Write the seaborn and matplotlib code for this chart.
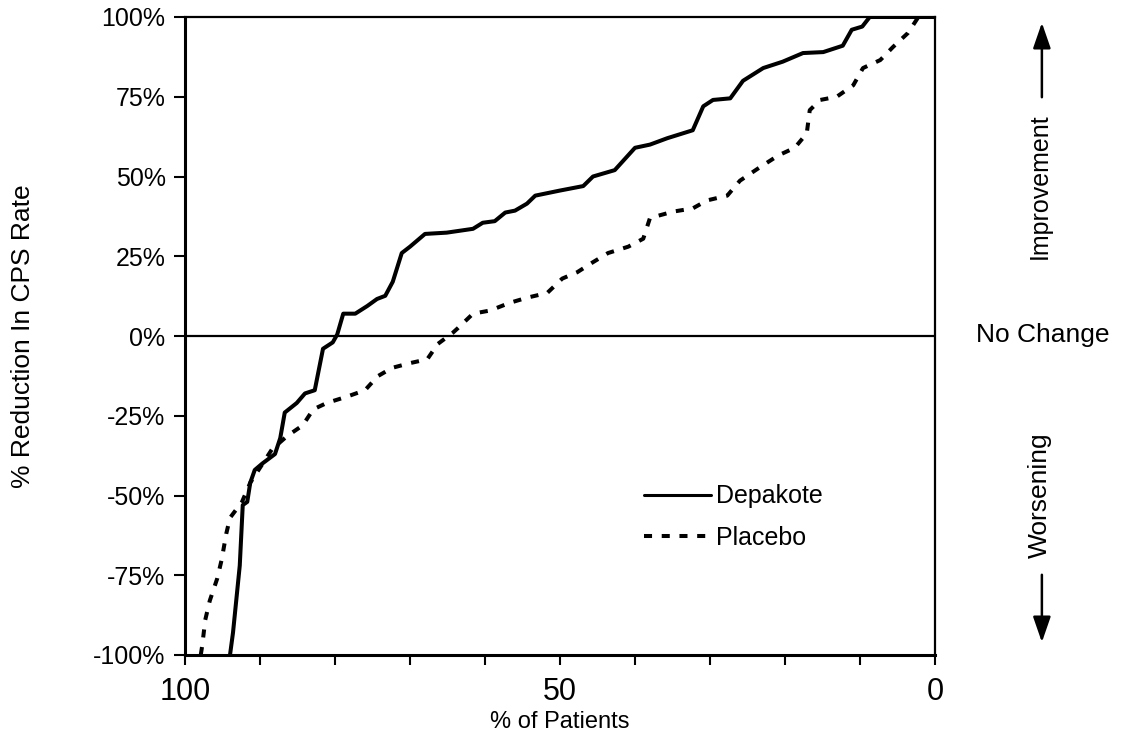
import matplotlib
matplotlib.use("Agg")
import matplotlib.pyplot as plt
import seaborn as sns
import pandas as pd
from matplotlib.ticker import FixedLocator, MultipleLocator
from matplotlib.lines import Line2D

# ---- data ----
depakote_x = [94.0, 93.6, 92.7, 92.3, 91.7, 91.3, 90.7, 89.7, 88.0, 87.3, 86.7, 85.1, 84.0,
              82.7, 81.6, 80.3, 79.7, 78.9, 77.3, 75.7, 74.4, 73.3, 72.3, 71.1, 70.0, 68.0,
              65.1, 61.6, 60.3, 58.7, 57.3, 56.0, 54.4, 53.3, 50.0, 46.9, 45.6, 42.7, 40.0,
              38.0, 35.7, 32.3, 30.9, 29.6, 27.3, 25.6, 22.9, 20.3, 17.6, 14.9, 12.3, 11.1,
              9.7, 8.7, 0.0]
depakote_y = [-100, -93, -72, -53, -52, -46, -42, -40, -37, -32, -24, -21, -18,
              -17, -4, -2, 0.5, 7, 7, 9.4, 11.6, 12.6, 17, 26, 28, 32,
              32.4, 33.6, 35.5, 36, 38.7, 39.3, 41.5, 44, 45.6, 47, 50, 52, 59,
              60, 62, 64.5, 72, 74, 74.5, 80, 84, 86, 88.7, 89, 91, 96,
              97, 100, 100]

placebo_x = [97.9, 97.7, 97.3, 96.7, 95.7, 95.1, 94.5, 94.0, 92.4, 91.3, 88.4, 86.4, 84.3,
             82.9, 81.1, 78.4, 76.0, 74.3, 72.4, 70.0, 67.7, 66.3, 64.3, 63.6, 61.6, 59.3,
             56.7, 54.4, 51.7, 49.7, 47.7, 45.7, 43.6, 40.9, 38.9, 38.0, 34.9, 32.3, 30.4,
             27.7, 26.0, 23.6, 20.9, 18.7, 17.1, 16.7, 15.3, 13.1, 10.9, 9.6, 7.3, 5.6,
             3.6, 2.3]
placebo_y = [-100, -97, -89, -83, -76, -70, -62, -57, -52, -46, -35.5, -31.4, -28,
             -23, -21, -19, -17, -12.6, -10, -8.5, -7.3, -2.5, 1, 2.5, 7, 8,
             10.4, 12, 13.5, 18, 20, 23, 26, 28, 30.5, 37, 39, 40, 42.5,
             44, 48.7, 52.5, 56.6, 59, 63.5, 70.8, 74, 75, 78.6, 84, 86.5, 90.6,
             95, 99.7]

series_names = ["Depakote", "Placebo"]
y_ticks = [-100, -75, -50, -25, 0, 25, 50, 75, 100]
y_tick_labels = ["-100%", "-75%", "-50%", "-25%", "0%", "25%", "50%", "75%", "100%"]
x_ticks = [100, 50, 0]
x_tick_labels = ["100", "50", "0"]

df = pd.concat([
    pd.DataFrame({"pct_patients": depakote_x, "reduction": depakote_y, "group": series_names[0]}),
    pd.DataFrame({"pct_patients": placebo_x, "reduction": placebo_y, "group": series_names[1]}),
], ignore_index=True)

sns.set_theme(style="ticks")
plt.rcParams["font.family"] = ["Liberation Sans", "DejaVu Sans"]
plt.rcParams["text.color"] = "black"
plt.rcParams["axes.labelcolor"] = "black"
plt.rcParams["xtick.color"] = "black"
plt.rcParams["ytick.color"] = "black"

fig = plt.figure(figsize=(11.23, 7.47), dpi=100)
ax = fig.add_axes([185 / 1123, 92 / 747, 750 / 1123, 638 / 747])

DASH = (2.0, 2.4)
sns.lineplot(data=df, x="pct_patients", y="reduction", hue="group", style="group",
             palette={"Depakote": "black", "Placebo": "black"},
             dashes={"Depakote": "", "Placebo": DASH},
             linewidth=2.9, sort=False, estimator=None, ax=ax, legend=False)

ax.axhline(0, color="black", lw=1.6, zorder=1)

ax.set_xlim(100, 0)
ax.set_ylim(-100, 100)

ax.set_yticks(y_ticks)
ax.set_yticklabels(y_tick_labels, fontsize=18)
ax.xaxis.set_major_locator(FixedLocator(x_ticks))
ax.set_xticklabels(x_tick_labels, fontsize=22)
ax.xaxis.set_minor_locator(MultipleLocator(10))
ax.tick_params(axis="x", which="both", direction="out", length=7, width=1.5, pad=9)
ax.tick_params(axis="y", direction="out", length=8, width=1.5, pad=6)

for s in ["left", "bottom"]:
    ax.spines[s].set_linewidth(2.2)
for s in ["top", "right"]:
    ax.spines[s].set_linewidth(1.6)
for s in ax.spines.values():
    s.set_color("black")

ax.set_xlabel("% of Patients", fontsize=17)
ax.xaxis.set_label_coords(0.5, -0.088)
ax.set_ylabel("% Reduction In CPS Rate", fontsize=19)
ax.yaxis.set_label_coords(-0.20, 0.5)

handles = [Line2D([], [], color="black", lw=2.2),
           Line2D([], [], color="black", lw=2.9, dashes=DASH)]
ax.legend(handles, series_names, loc="upper left", bbox_to_anchor=(0.595, 0.287),
          frameon=False, fontsize=18, handlelength=2.7, handletextpad=0.2,
          labelspacing=0.7, borderpad=0)

# right-side annotations
xr = 1043 / 1123
fig.text(xr, 1 - 335 / 747, "No Change", ha="center", va="center", fontsize=19)
fig.text(xr - 0.003, 1 - 186 / 747, "Improvement", ha="center", va="center",
         rotation=90, fontsize=18)
fig.text(xr - 0.003, 1 - 495 / 747, "Worsening", ha="center", va="center",
         rotation=90, fontsize=19)
arrow_kw = dict(arrowstyle="-|>,head_length=1.3,head_width=0.45", color="black", lw=1.8)
ax.annotate("", xy=(xr - 0.001, 1 - 20 / 747), xytext=(xr - 0.001, 1 - 100 / 747),
            xycoords="figure fraction", textcoords="figure fraction", arrowprops=arrow_kw,
            annotation_clip=False)
ax.annotate("", xy=(xr - 0.001, 1 - 645 / 747), xytext=(xr - 0.001, 1 - 572 / 747),
            xycoords="figure fraction", textcoords="figure fraction", arrowprops=arrow_kw,
            annotation_clip=False)

fig.savefig("out.png", dpi=100)
